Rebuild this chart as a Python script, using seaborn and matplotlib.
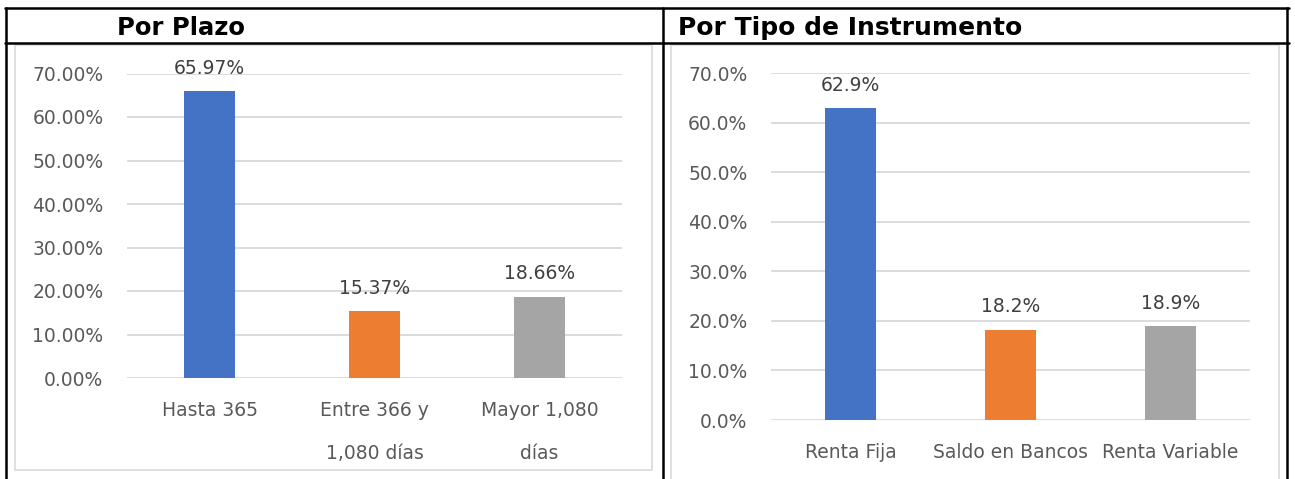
import pandas as pd
import seaborn as sns
import matplotlib.pyplot as plt
from matplotlib.lines import Line2D
from matplotlib.patches import Rectangle
from matplotlib.ticker import FuncFormatter

# data
plazo_cats = ["Hasta 365", "Entre 366 y\n1,080 días", "Mayor 1,080\ndías"]
plazo_vals = [65.97, 15.37, 18.66]
tipo_cats = ["Renta Fija", "Saldo en Bancos", "Renta Variable"]
tipo_vals = [62.9, 18.2, 18.9]
bar_colors = ["#4472C4", "#ED7D31", "#A5A5A5"]

W, H = 1295, 479
TXT = "#595959"
GRID = "#D9D9D9"

sns.set_style("white")
plt.rcParams["font.family"] = ["DejaVu Sans"]

fig = plt.figure(figsize=(W / 100, H / 100), dpi=100)


def px_axes(x0, x1, ytop, ybot):
    return fig.add_axes([x0 / W, (H - ybot) / H, (x1 - x0) / W, (ybot - ytop) / H])


def fig_line(xs, ys, color="black", lw=1.8):
    fig.add_artist(Line2D([x / W for x in xs], [(H - y) / H for y in ys],
                          color=color, lw=lw, transform=fig.transFigure))


def fig_box(x0, x1, ytop, ybot):
    fig.add_artist(Rectangle((x0 / W, (H - ybot) / H), (x1 - x0) / W, (ybot - ytop) / H,
                             fill=False, edgecolor=GRID, lw=1.2, transform=fig.transFigure))


def draw_panel(ax, cats, vals, fmt_tick, fmt_lab, width):
    df = pd.DataFrame({"cat": cats, "val": vals})
    sns.barplot(data=df, x="cat", y="val", hue="cat", palette=bar_colors,
                order=cats, ax=ax, legend=False, width=width, saturation=1,
                linewidth=0)
    ax.set_ylim(0, 70)
    ax.set_yticks(range(0, 71, 10))
    ax.yaxis.set_major_formatter(FuncFormatter(lambda v, p: fmt_tick.format(v)))
    ax.grid(axis="y", color=GRID, lw=1.3)
    ax.set_axisbelow(True)
    for s in ax.spines.values():
        s.set_visible(False)
    ax.tick_params(axis="y", length=0, pad=17, labelsize=13.5, labelcolor=TXT)
    ax.tick_params(axis="x", length=0, pad=16.5, labelsize=13.5, labelcolor=TXT)
    for lab in ax.get_xticklabels():
        lab.set_linespacing(2.6)
    ax.set_xlabel("")
    ax.set_ylabel("")
    for patch, v in zip(ax.patches, vals):
        ax.annotate(fmt_lab.format(v), (patch.get_x() + patch.get_width() / 2, v),
                    xytext=(0, 12.5), textcoords="offset points",
                    ha="center", va="baseline", fontsize=13.5, color="#404040",
                    annotation_clip=False)


# table borders
fig_box(15, 652, 45, 470)
fig_box(671, 1279, 45, 490)
fig_line([5, 1289], [8, 8])
fig_line([5, 1289], [43, 43])
fig_line([6, 6], [8, 479])
fig_line([663, 663], [8, 479])
fig_line([1287, 1287], [8, 479])

fig.text(117 / W, (H - 28) / H, "Por Plazo", fontsize=17.5, fontweight="bold",
         ha="left", va="center", color="black")
fig.text(678 / W, (H - 28) / H, "Por Tipo de Instrumento", fontsize=18,
         fontweight="bold", ha="left", va="center", color="black")

ax1 = px_axes(127, 622, 73.5, 378)
draw_panel(ax1, plazo_cats, plazo_vals, "{:.2f}%", "{:.2f}%", 0.315)

ax2 = px_axes(771, 1250, 73.3, 420)
draw_panel(ax2, tipo_cats, tipo_vals, "{:.1f}%", "{:.1f}%", 0.32)

fig.savefig("out.png", dpi=100)
